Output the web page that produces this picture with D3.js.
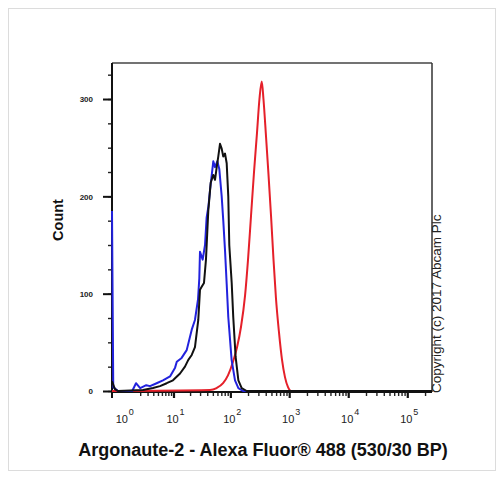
<!DOCTYPE html>
<html>
<head>
<meta charset="utf-8">
<script src="https://cdn.jsdelivr.net/npm/d3@7"></script>
<style>
  body { margin: 0; background: #fff; }
  svg { display: block; font-family: "Liberation Sans", Arial, sans-serif; }
</style>
</head>
<body>
<svg id="chart" width="504" height="479"></svg>
<script>
// histogram traces: fluorescence value, event count
var blueFl    = [0, 0.05, 0.26, 1.2, 1.55, 2.0, 2.8, 3.4, 4.7, 6.3, 8.6, 10.7, 11.5, 14.1, 17.4, 21.4, 24.4, 27.6, 29.1, 29.9, 33.3, 36.6, 39, 42, 44.6, 50.9, 54.5, 59.7, 64.6, 71, 75.6, 80.9, 86.5, 92.1, 105, 120, 137, 164, 262144];
var blueCount = [185, 4, 0, 0, 8, 3, 6, 5, 8, 11, 15, 24, 30, 34, 42, 63, 73, 94, 116, 143, 135, 150, 178, 190, 206, 236, 230, 236, 228, 200, 175, 145, 110, 76, 32, 11, 3, 0, 0];

var blackFl    = [0, 0.12, 0.26, 2.35, 3.94, 5.5, 7.44, 9.78, 13.2, 16.2, 18.6, 21.4, 24.4, 27.9, 29.9, 32, 35.1, 38, 41.7, 45.9, 50.9, 54.5, 58.3, 62.1, 66.4, 71, 75.6, 80.9, 86.5, 92.1, 95.8, 105.4, 112, 123, 137, 156, 190, 262144];
var blackCount = [10, 2, 0, 1, 3, 5, 8, 11, 18, 25, 32, 37, 45, 73, 104, 107, 111, 135, 185, 214, 222, 217, 230, 241, 254, 249, 241, 244, 234, 200, 150, 111, 76, 35, 11, 3, 0, 0];

var redFl    = [0, 44.6, 58, 75, 91, 111, 130, 152, 178, 200, 225, 253, 284, 313, 342, 366, 404, 446, 492, 542, 597, 672, 756, 850, 955, 1073, 262144];
var redCount = [0, 1, 3, 8, 16, 30, 45, 66, 98, 135, 180, 225, 265, 300, 318, 300, 262, 222, 180, 135, 95, 60, 32, 14, 4, 0, 0];

var yTicks = [0, 100, 200, 300];
var decades = [0, 1, 2, 3, 4, 5];

var svg = d3.select("#chart"),
    margin = {top: 63, right: 72, bottom: 88, left: 112},
    width = +svg.attr("width") - margin.left - margin.right,
    height = +svg.attr("height") - margin.top - margin.bottom;

// light frame around the figure
svg.append("rect")
    .attr("x", 8.5).attr("y", 8.5)
    .attr("width", 487).attr("height", 462)
    .attr("fill", "none").attr("stroke", "#dcdcdc");

var g = svg.append("g").attr("transform", "translate(" + margin.left + "," + margin.top + ")");

var x = d3.scaleSymlog().constant(1)
    .domain([0, 262144])
    .range([0, width]);

var y = d3.scaleLinear()
    .domain([0, 337])
    .range([height, 0]);

g.append("clipPath").attr("id", "plotclip")
  .append("rect").attr("x", -2).attr("y", 0).attr("width", width + 2).attr("height", height + 2);

// frame lines
g.append("line").attr("x1", 0).attr("x2", width).attr("y1", 0).attr("y2", 0)
    .attr("stroke", "#444").attr("stroke-width", 1.5);
g.append("line").attr("x1", width).attr("x2", width).attr("y1", 0).attr("y2", height + 1)
    .attr("stroke", "#333").attr("stroke-width", 1.5);

// y axis: minor ticks every 25, labelled every 100
var yMinor = d3.range(0, 337, 25);
var yAxisMinor = g.append("g")
    .call(d3.axisLeft(y).tickValues(yMinor).tickSize(4).tickFormat(""));
yAxisMinor.select(".domain").remove();
yAxisMinor.selectAll("line").attr("stroke", "#222").attr("stroke-width", 1.4);

var yAxis = g.append("g")
    .call(d3.axisLeft(y).tickValues(yTicks).tickSize(9).tickPadding(10));
yAxis.select(".domain").remove();
yAxis.selectAll("line").attr("stroke", "#111").attr("stroke-width", 2);
yAxis.selectAll("text")
    .attr("fill", "#222")
    .attr("dy", "0.35em")
    .style("font-size", "8px")
    .style("font-weight", "bold");

g.append("line").attr("x1", 0).attr("x2", 0).attr("y1", 0).attr("y2", height + 7)
    .attr("stroke", "#111").attr("stroke-width", 2);

// x axis: log decades with minor ticks
var xMinor = [];
decades.forEach(function(d) {
  for (var k = 2; k <= 9; k++) {
    var v = k * Math.pow(10, d);
    if (v < 262144) xMinor.push(v);
  }
});
var xMajor = decades.slice(1).map(function(d) { return Math.pow(10, d); });

var xAxisMinor = g.append("g")
    .attr("transform", "translate(0," + (height + 1) + ")")
    .call(d3.axisBottom(x).tickValues(xMinor).tickSize(4).tickFormat(""));
xAxisMinor.select(".domain").remove();
xAxisMinor.selectAll("line").attr("stroke", "#222").attr("stroke-width", 1.4);

var xAxis = g.append("g")
    .attr("transform", "translate(0," + (height + 1) + ")")
    .call(d3.axisBottom(x).tickValues(xMajor).tickSize(6).tickFormat(""));
xAxis.select(".domain").remove();
xAxis.selectAll("line").attr("stroke", "#111").attr("stroke-width", 2.2);

g.append("line").attr("x1", 0).attr("x2", width).attr("y1", height + 1).attr("y2", height + 1)
    .attr("stroke", "#111").attr("stroke-width", 2);

// histogram traces, drawn over the axis lines
function series(fl, count) {
  return fl.map(function(v, i) { return [v, count[i]]; });
}

var line = d3.line()
    .x(function(d) { return x(d[0]); })
    .y(function(d) { return y(d[1]); });

var plot = g.append("g").attr("clip-path", "url(#plotclip)");

plot.append("path")
    .datum(series(redFl, redCount))
    .attr("fill", "none")
    .attr("stroke", "#e5202a")
    .attr("stroke-width", 2)
    .attr("d", line.curve(d3.curveMonotoneX));

plot.append("path")
    .datum(series(blueFl, blueCount))
    .attr("fill", "none")
    .attr("stroke", "#2222dd")
    .attr("stroke-width", 2)
    .attr("stroke-linejoin", "round")
    .attr("d", line.curve(d3.curveLinear));

plot.append("path")
    .datum(series(blackFl, blackCount))
    .attr("fill", "none")
    .attr("stroke", "#111")
    .attr("stroke-width", 2)
    .attr("stroke-linejoin", "round")
    .attr("d", line.curve(d3.curveLinear));

// decade labels 10^n
var xLab = g.append("g").selectAll("g")
    .data(decades)
  .enter().append("g")
    .attr("transform", function(d) {
      var px = x(Math.pow(10, d)) - (d === 0 ? 7 : 0);
      return "translate(" + px + "," + (height + 32) + ")";
    });
xLab.append("text")
    .attr("text-anchor", "middle")
    .attr("x", -1)
    .attr("fill", "#222")
    .style("font-size", "11px")
    .text("10");
xLab.append("text")
    .attr("x", 6)
    .attr("y", -8)
    .attr("fill", "#222")
    .style("font-size", "9px")
    .text(function(d) { return d; });

// titles
svg.append("text")
    .attr("transform", "translate(63," + 220 + ") rotate(-90)")
    .attr("text-anchor", "middle")
    .attr("fill", "#111")
    .style("font-size", "14.5px")
    .style("font-weight", "bold")
    .text("Count");

svg.append("text")
    .attr("x", 263)
    .attr("y", 456)
    .attr("text-anchor", "middle")
    .attr("fill", "#111")
    .style("font-size", "18px")
    .style("font-weight", "bold")
    .text("Argonaute-2 - Alexa Fluor\u00AE 488 (530/30 BP)");

svg.append("text")
    .attr("transform", "translate(441,393) rotate(-90)")
    .attr("text-anchor", "start")
    .attr("fill", "#222")
    .style("font-size", "13.5px")
    .text("Copyright (c) 2017 Abcam Plc");
</script>
</body>
</html>
